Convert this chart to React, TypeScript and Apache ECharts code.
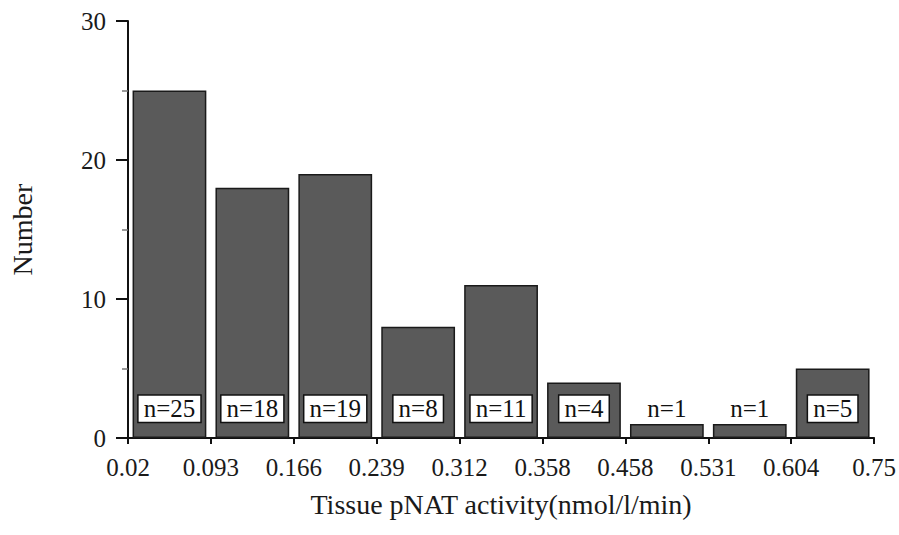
import React, { useEffect, useRef } from "react";
import * as echarts from "echarts";

const binLabels = ["0.02-0.093", "0.093-0.166", "0.166-0.239", "0.239-0.312", "0.312-0.358", "0.358-0.458", "0.458-0.531", "0.531-0.604", "0.604-0.75"];
const counts = [25, 18, 19, 8, 11, 4, 1, 1, 5];
const boundaryLabels = ["0.02", "0.093", "0.166", "0.239", "0.312", "0.358", "0.458", "0.531", "0.604", "0.75"];
const yTicks = { min: 0, max: 30, interval: 10 };
const labelLevel = 2.1;

const FONT = "'Liberation Serif', 'Times New Roman', serif";

export default function App() {
  const ref = useRef<HTMLDivElement>(null);
  useEffect(() => {
    if (!ref.current) return;
    const chart = echarts.init(ref.current, undefined, { renderer: "svg" });
    chart.setOption({
      animation: false,
      backgroundColor: "#ffffff",
      textStyle: { fontFamily: FONT, color: "#1a1a1a" },
      grid: { left: 127, right: 23, top: 21, bottom: 97 },
      xAxis: [
        {
          type: "category",
          data: binLabels,
          position: "bottom",
          boundaryGap: true,
          axisLine: { show: true, lineStyle: { color: "#111", width: 2 } },
          axisTick: { show: true, length: 6, lineStyle: { color: "#111", width: 2 } },
          axisLabel: { show: false },
          splitLine: { show: false },
        },
        {
          type: "category",
          data: boundaryLabels,
          position: "bottom",
          boundaryGap: false,
          axisLine: { show: false },
          axisTick: { show: false },
          axisLabel: { show: true, fontFamily: FONT, fontSize: 25, color: "#1a1a1a", margin: 17, interval: 0 },
          splitLine: { show: false },
          name: "Tissue pNAT activity(nmol/l/min)",
          nameLocation: "middle",
          nameGap: 52,
          nameTextStyle: { fontFamily: FONT, fontSize: 28, color: "#1a1a1a" },
        },
      ],
      yAxis: {
        type: "value",
        min: yTicks.min,
        max: yTicks.max,
        interval: yTicks.interval,
        axisLine: { show: true, lineStyle: { color: "#111", width: 2 } },
        axisTick: { show: true, length: 12, lineStyle: { color: "#111", width: 2 } },
        minorTick: { show: true, splitNumber: 2, length: 6, lineStyle: { color: "#777", width: 1.5 } },
        axisLabel: { fontFamily: FONT, fontSize: 25, color: "#1a1a1a", margin: 22 },
        splitLine: { show: false },
        name: "Number",
        nameLocation: "middle",
        nameGap: 92,
        nameRotate: 90,
        nameTextStyle: { fontFamily: FONT, fontSize: 28, color: "#1a1a1a" },
      },
      series: [
        {
          type: "bar",
          xAxisIndex: 0,
          data: counts,
          barCategoryGap: "11%",
          itemStyle: { color: "#5a5a5a", borderColor: "#1a1a1a", borderWidth: 1.5 },
        },
        {
          type: "scatter",
          xAxisIndex: 0,
          symbolSize: 0,
          itemStyle: { opacity: 1 },
          emphasis: { disabled: true },
          data: counts.map((c, i) => ({
            value: [i, labelLevel],
            label: c > 1
              ? { backgroundColor: "#ffffff", borderColor: "#111", borderWidth: 1.5 }
              : { backgroundColor: "transparent", borderWidth: 0 },
          })),
          label: {
            show: true,
            position: "inside",
            formatter: (p: any) => "n=" + counts[p.dataIndex],
            fontFamily: FONT,
            fontSize: 25,
            color: "#111",
            padding: [1, 5, 0, 5],
          },
          z: 5,
        },
      ],
    });
    return () => chart.dispose();
  }, []);
  return <div ref={ref} style={{ position: "fixed", left: 0, top: 0, width: 899, height: 535 }} />;
}
